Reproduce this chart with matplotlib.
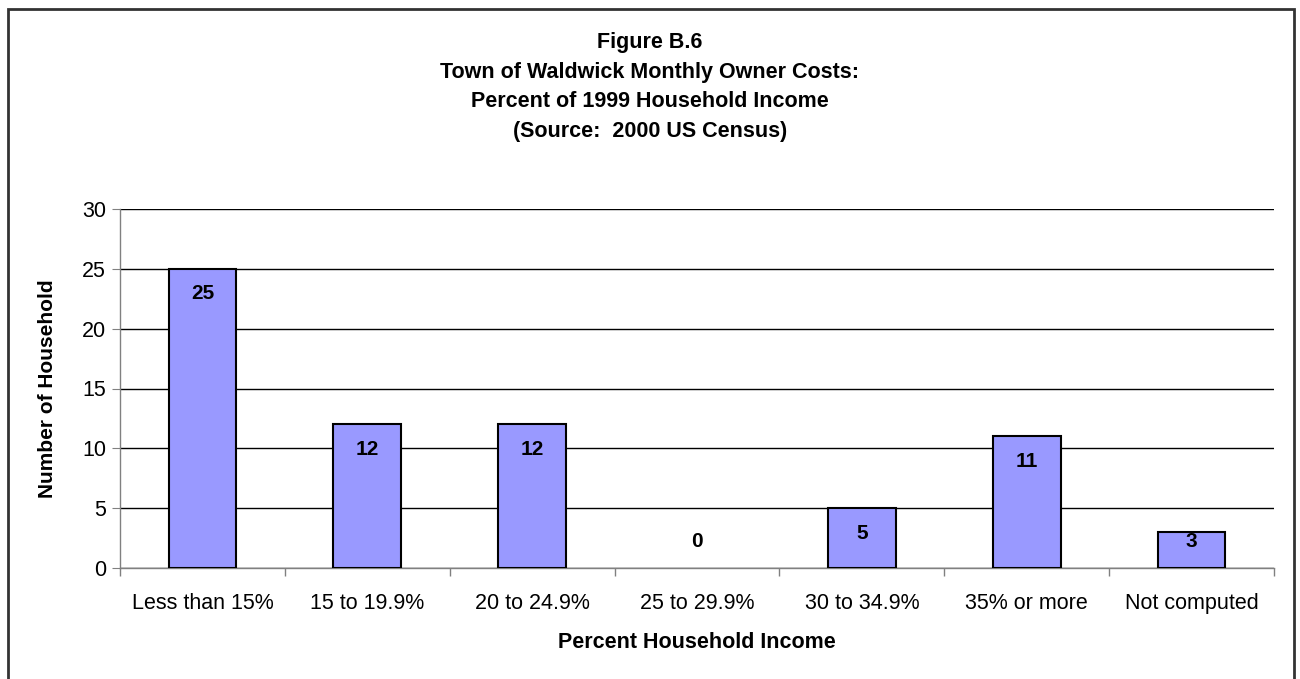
import matplotlib.pyplot as plt
from matplotlib.patches import Rectangle
import numpy as np

plt.rcParams['font.family'] = ['Liberation Sans', 'DejaVu Sans']

categories = ['Less than 15%', '15 to 19.9%', '20 to 24.9%', '25 to 29.9%',
              '30 to 34.9%', '35% or more', 'Not computed']
households = [25, 12, 12, 0, 5, 11, 3]
y_ticks = [0, 5, 10, 15, 20, 25, 30]

fig = plt.figure(figsize=(13, 6.79), dpi=100)
ax = fig.add_axes([120 / 1300, 1 - 568 / 679, 1154 / 1300, 359 / 679])

# outer chart frame (bottom edge is cut off in the original)
fig.patches.append(Rectangle((8 / 1300, -0.1), 1286 / 1300, 1.1 - 9 / 679,
                             transform=fig.transFigure, fill=False,
                             edgecolor='#333333', linewidth=2))

x = np.arange(len(categories))
edges = ['black' if v > 0 else 'none' for v in households]
ax.bar(x, households, width=0.41, color='#9999FF', edgecolor=edges,
       linewidth=1.5, zorder=3)

for xi, v in zip(x, households):
    ax.text(xi, max(v - 2.1, 2.25), str(v), ha='center', va='center',
            fontsize=15, fontweight='bold', zorder=4)

ax.set_xlim(-0.5, len(categories) - 0.5)
ax.set_ylim(0, 30)
ax.set_yticks(y_ticks)
ax.yaxis.grid(True, color='black', linewidth=1)
ax.set_axisbelow(True)

ax.set_xticks(x)
ax.set_xticklabels(categories, fontsize=15.5)
ax.set_xticks(np.arange(-0.5, len(categories)), minor=True)
ax.tick_params(axis='x', which='major', length=0, pad=18)
ax.tick_params(axis='x', which='minor', length=6, color='#808080', width=1)
ax.tick_params(axis='y', length=6, color='#808080', labelsize=15.5, pad=4)

for s in ['top', 'right']:
    ax.spines[s].set_visible(False)
for s in ['left', 'bottom']:
    ax.spines[s].set_color('#808080')
    ax.spines[s].set_linewidth(1)

ax.set_xlabel('Percent Household Income', fontsize=15.5, fontweight='bold',
              labelpad=13)
ax.set_ylabel('Number of Household', fontsize=15, fontweight='bold',
              labelpad=18)

fig.text(650 / 1300, 1 - 87 / 679,
         'Figure B.6\nTown of Waldwick Monthly Owner Costs:\n'
         'Percent of 1999 Household Income\n(Source:  2000 US Census)',
         ha='center', va='center', fontsize=15.5, fontweight='bold',
         linespacing=1.55)

fig.savefig('out.png', dpi=100)
